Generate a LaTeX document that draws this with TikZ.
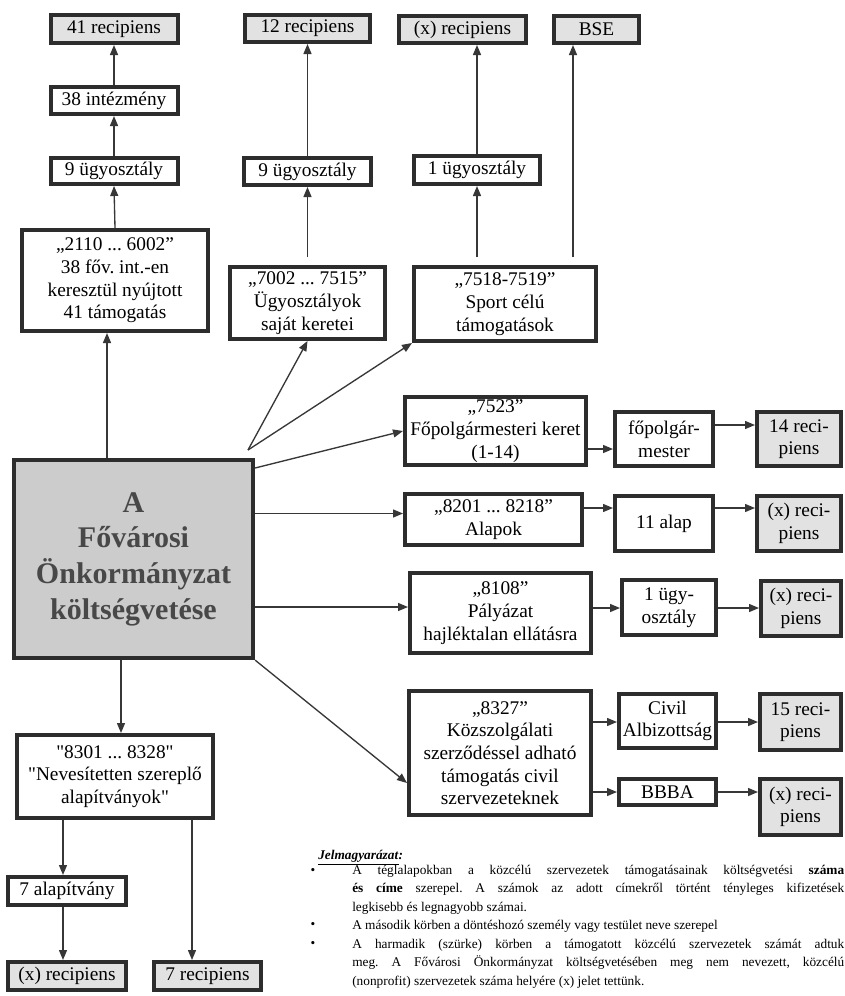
\documentclass[tikz,border=0pt]{standalone}
\usepackage{fontspec}
\setmainfont{Liberation Serif}
\usetikzlibrary{arrows.meta}
\definecolor{box_line}{RGB}{45, 45, 45}
\definecolor{rec_grey}{RGB}{226, 226, 226}
\definecolor{main_grey}{RGB}{204, 204, 204}
\definecolor{main_text}{RGB}{72, 72, 72}
\definecolor{wire}{RGB}{55, 55, 55}
\tikzstyle{bx}=[rectangle,fill=white,draw=box_line,line width=3pt,
  inner sep=0pt,align=center,font=\fontsize{14.5}{17}\selectfont]
\tikzstyle{rec}=[bx,fill=rec_grey]
\tikzstyle{mn}=[bx,fill=main_grey,line width=3.2pt,text=main_text,
  font=\fontsize{22.5}{26.8}\selectfont\bfseries]
\tikzstyle{arr}=[-{Triangle[length=7.5pt,width=6pt]},draw=wire,line width=1pt]
\tikzstyle{none}=[]
\tikzset{dim/.style 2 args={minimum width=#1*0.75pt,minimum height=#2*0.75pt}}
\frenchspacing

\begin{document}
\begin{tikzpicture}[x=0.75pt,y=-0.75pt]
            \fill [white] (0, 0) rectangle (845, 996);
            \useasboundingbox (0, 0) rectangle (845, 996);
            \node [style=rec, dim={127}{28}] (0) at (114, 29) {41 recipiens};
            \node [style=bx, dim={127}{27}] (1) at (114, 100.5) {38 intézmény};
            \node [style=bx, dim={127}{26}] (2) at (114, 171) {9 ügyosztály};
            \node [style=bx, dim={186}{101}] (3) at (115, 280.5) {„2110 ... 6002”\\38 főv. int.-en\\keresztül nyújtott\\41 támogatás};
            \node [style=rec, dim={125}{27}] (4) at (307.5, 28.5) {12 recipiens};
            \node [style=bx, dim={127}{27}] (5) at (307.5, 171.5) {9 ügyosztály};
            \node [style=bx, dim={155}{72}] (6) at (307.5, 303) {„7002 ... 7515”\\Ügyosztályok\\saját keretei};
            \node [style=rec, dim={127}{27}] (7) at (462.5, 29.5) {(x) recipiens};
            \node [style=rec, dim={85}{27}] (8) at (596.5, 29.5) {BSE};
            \node [style=bx, dim={126}{28}] (9) at (477, 170) {1 ügyosztály};
            \node [style=bx, dim={182}{74}] (10) at (505, 304) {„7518-7519”\\Sport célú\\támogatások};
            \node [style=mn, dim={239}{198}] (11) at (133.5, 559) {A\\Fővárosi\\Önkormányzat\\költségvetése};
            \node [style=bx, dim={196}{83}] (12) at (115, 776.5) {\textquotedbl 8301 ... 8328\textquotedbl\\\textquotedbl Nevesítetten szereplő\\alapítványok\textquotedbl};
            \node [style=bx, dim={118}{28}] (13) at (67, 891) {7 alapítvány};
            \node [style=rec, dim={118}{28}] (14) at (67, 976) {(x) recipiens};
            \node [style=rec, dim={107}{28}] (15) at (207.5, 976) {7 recipiens};
            \node [style=bx, dim={181}{68}] (16) at (495.5, 431) {„7523”\\Főpolgármesteri keret\\(1-14)};
            \node [style=bx, dim={177}{51}] (17) at (493.5, 519.5) {„8201 ... 8218”\\Alapok};
            \node [style=bx, dim={181}{80}] (18) at (500.5, 613) {„8108”\\Pályázat\\hajléktalan ellátásra};
            \node [style=bx, dim={182}{124}] (19) at (500, 753) {„8327”\\Közszolgálati\\szerződéssel adható\\támogatás civil\\szervezeteknek};
            \node [style=bx, dim={98}{54}] (20) at (664, 439) {főpolgár-\\mester};
            \node [style=bx, dim={98}{55}] (21) at (664, 523.5) {11 alap};
            \node [style=bx, dim={94}{55}] (22) at (669, 607.5) {1 ügy-\\osztály};
            \node [style=bx, dim={97}{54}] (23) at (667.5, 721) {Civil\\Albizottság};
            \node [style=bx, dim={97}{26}] (24) at (667.5, 792) {BBBA};
            \node [style=rec, dim={84}{54}] (25) at (799, 439) {14 reci-\\piens};
            \node [style=rec, dim={84}{55}] (26) at (799, 523.5) {(x) reci-\\piens};
            \node [style=rec, dim={80}{55}] (27) at (801, 608.5) {(x) reci-\\piens};
            \node [style=rec, dim={81}{56}] (28) at (800.5, 722) {15 reci-\\piens};
            \node [style=rec, dim={81}{56}] (29) at (800.5, 807) {(x) reci-\\piens};
            \node [style=none, anchor=west, inner sep=0pt, font=\fontsize{10}{12}\selectfont] (30) at (318, 858) {\underline{\textbf{\textit{Jelmagyarázat}}}\textbf{\textit{:}}};
            \node [style=none, inner sep=0pt, font=\fontsize{10}{12}\selectfont] (31) at (313, 871) {\textbullet};
            \node [style=none, inner sep=0pt, font=\fontsize{10}{12}\selectfont] (32) at (313, 925) {\textbullet};
            \node [style=none, inner sep=0pt, font=\fontsize{10}{12}\selectfont] (33) at (313, 944) {\textbullet};
            \node [style=none, anchor=north west, inner sep=0pt, text width=369pt, align=justify,
              font=\fontsize{10}{13.9}\selectfont] (34) at (352, 864.5) {\parindent=0pt
              A téglalapokban a közcélú szervezetek támogatásainak költségvetési \textbf{száma}\linebreak
              \textbf{és címe} szerepel. A számok az adott címekről történt tényleges kifizetések\linebreak
              legkisebb és legnagyobb számai.\par
              A második körben a döntéshozó személy vagy testület neve szerepel\par
              A harmadik (szürke) körben a támogatott közcélú szervezetek számát adtuk\linebreak
              meg. A Fővárosi Önkormányzat költségvetésében meg nem nevezett, közcélú\linebreak
              (nonprofit) szervezetek száma helyére (x) jelet tettünk.};
            \coordinate (40) at (107, 0);
            \coordinate (41) at (121, 0);
            \coordinate (42) at (63, 0);
            \coordinate (43) at (192, 0);
            \coordinate (44) at (573, 0);
            \coordinate (45) at (248, 450);
            \coordinate (46) at (0, 468);
            \coordinate (47) at (0, 513.5);
            \coordinate (48) at (0, 607);
            \coordinate (49) at (0, 783);
            \coordinate (50) at (0, 449);
            \coordinate (51) at (0, 425);
            \coordinate (52) at (0, 508);
            \coordinate (53) at (0, 608);
            \coordinate (54) at (0, 722);
            \coordinate (55) at (0, 792);
            \draw [style=arr] (3.north) to (2.south);
            \draw [style=arr] (2.north) to (1.south);
            \draw [style=arr] (1.north) to (0.south);
            \draw [style=arr, shorten <=6pt] (6.north) to (5.south);
            \draw [style=arr] (5.north) to (4.south);
            \draw [style=arr, shorten <=6pt] (9.south |- 10.north) to (9.south);
            \draw [style=arr] (9.north) to (9.north |- 7.south);
            \draw [style=arr, shorten <=6pt] (44 |- 10.north) to (44 |- 8.south);
            \draw [style=arr] (40 |- 11.north) to (40 |- 3.south);
            \draw [style=arr] (45) to (6.south);
            \draw [style=arr] (45) to (10.south west);
            \draw [style=arr] (11.east |- 46) to (16.west);
            \draw [style=arr] (11.east |- 47) to (17.west |- 47);
            \draw [style=arr] (11.east |- 48) to (18.west |- 48);
            \draw [style=arr] (11.south east) to (19.west |- 49);
            \draw [style=arr] (41 |- 11.south) to (41 |- 12.north);
            \draw [style=arr] (42 |- 12.south) to (42 |- 13.north);
            \draw [style=arr] (42 |- 13.south) to (42 |- 14.north);
            \draw [style=arr] (43 |- 12.south) to (43 |- 15.north);
            \draw [style=arr] (16.east |- 50) to (20.west |- 50);
            \draw [style=arr] (20.east |- 51) to (25.west |- 51);
            \draw [style=arr] (17.east |- 52) to (21.west |- 52);
            \draw [style=arr] (21.east |- 52) to (26.west |- 52);
            \draw [style=arr] (18.east |- 53) to (22.west |- 53);
            \draw [style=arr] (22.east |- 53) to (27.west |- 53);
            \draw [style=arr] (19.east |- 54) to (23.west |- 54);
            \draw [style=arr] (23.east |- 54) to (28.west |- 54);
            \draw [style=arr] (19.east |- 55) to (24.west |- 55);
            \draw [style=arr] (24.east |- 55) to (29.west |- 55);
\end{tikzpicture}
\end{document}
